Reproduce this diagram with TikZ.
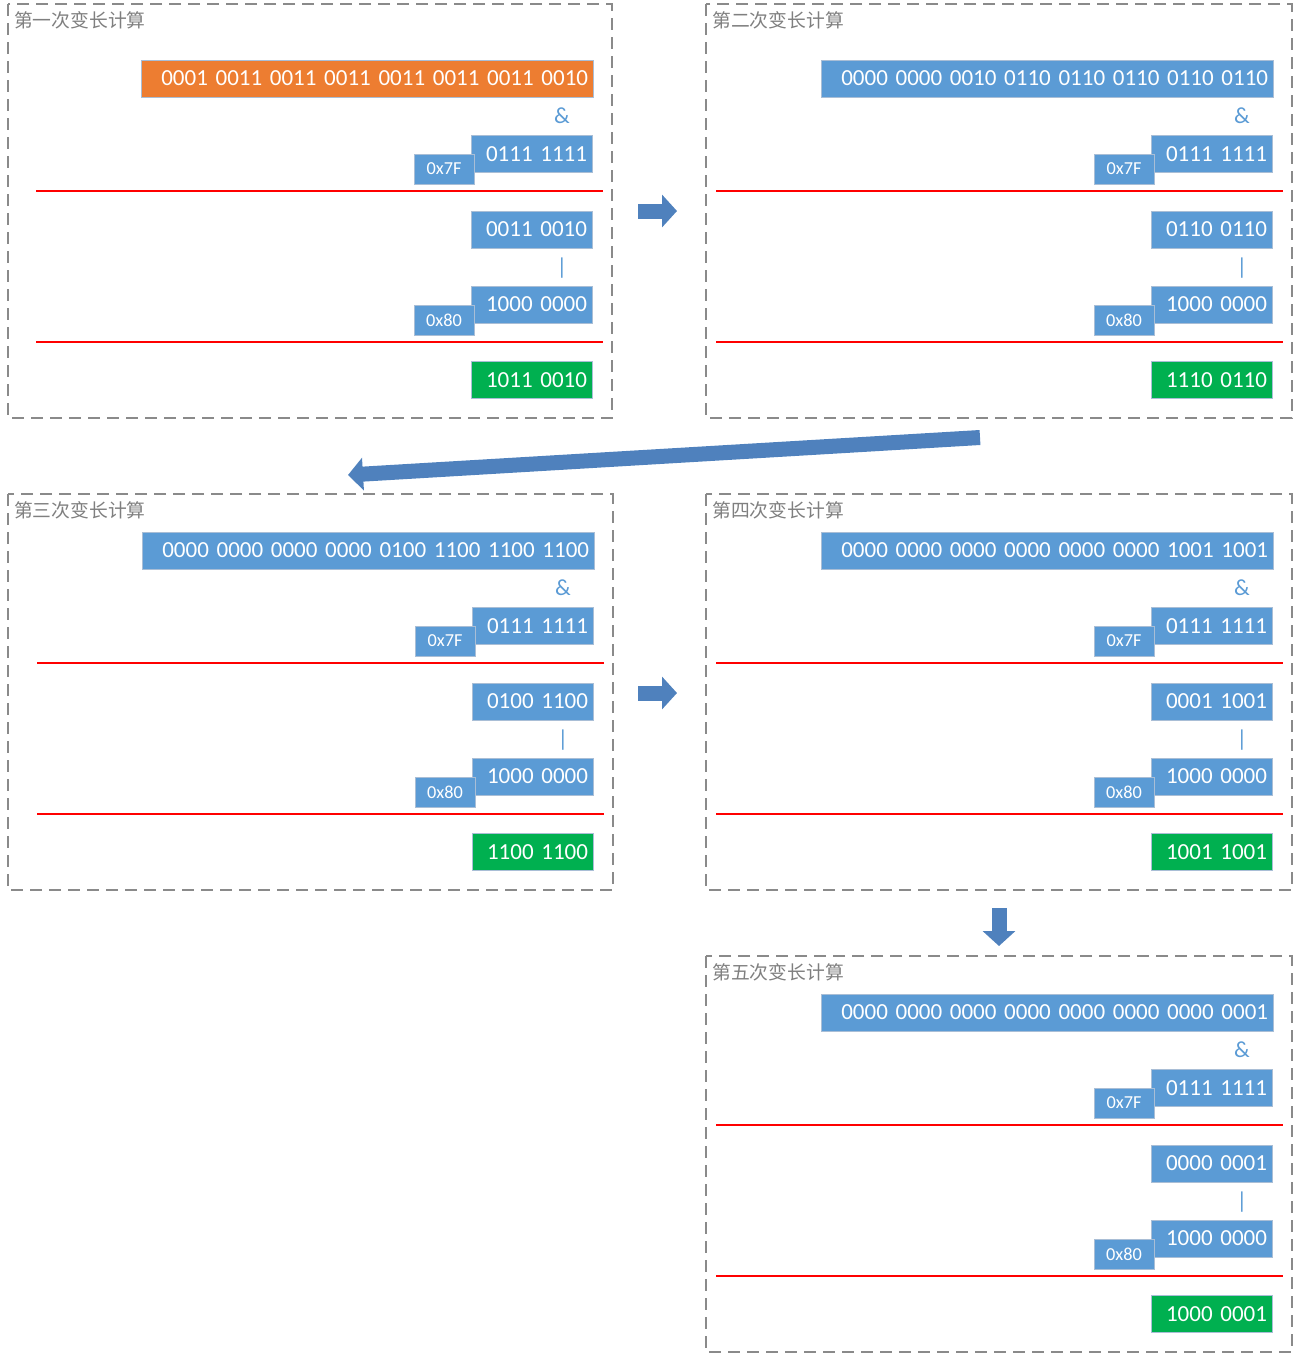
\documentclass[tikz,border=0pt]{standalone}
\usepackage{fontspec}
\newfontfamily\numfont{Carlito}
\newfontfamily\cjkfont{Noto Sans CJK SC}
\usetikzlibrary{arrows.meta}
\definecolor{nodeblue}{HTML}{5B9BD5}
\definecolor{nodeorange}{HTML}{ED7D31}
\definecolor{nodegreen}{HTML}{00B050}
\definecolor{boxline}{HTML}{A9BED6}
\definecolor{framegray}{HTML}{8A8A8A}
\definecolor{titlegray}{HTML}{7F7F7F}
\definecolor{arrowblue}{HTML}{4F81BD}
\tikzstyle{numbox} = [rectangle, draw=boxline, line width=1pt,
                      text=white, font=\numfont\fontsize{23}{28}\selectfont,
                      inner xsep=5pt, inner ysep=0pt,
                      minimum height=37pt, align=right]
\tikzstyle{hexbox} = [rectangle, draw=boxline, line width=1pt,
                      fill=nodeblue, text=white,
                      font=\numfont\fontsize{18.3}{22}\selectfont,
                      inner sep=0pt, minimum width=60pt, minimum height=30pt]
\tikzstyle{opsign} = [text=nodeblue, font=\numfont\fontsize{23}{28}\selectfont, inner sep=0pt]
\tikzstyle{paneltitle} = [text=titlegray, font=\cjkfont\fontsize{18.8}{22}\selectfont,
                          inner sep=0pt, anchor=west]
\tikzstyle{panelframe} = [draw=framegray, line width=2pt, dash pattern=on 12pt off 7pt]
\tikzstyle{sumline} = [red, line width=1.6pt]
\tikzstyle{blockarrow} = [arrowblue, line width=15pt, -{Triangle[width=32pt,length=15pt]}]

\begin{document}
\begin{tikzpicture}[x=1pt, y=-1pt]
    \useasboundingbox (0,0) rectangle (1298,1361);

    % One panel per round of the varint computation
    \foreach \n/\xo/\yo/\lx/\ty/\ptitle/\bigfill/\bigval/\midval/\res in {
        1/0/60/8/-56/第一次变长计算/nodeorange/{0001 0011 0011 0011 0011 0011 0011 0010}/{0011 0010}/{1011 0010},
        2/680/60/706/-56/第二次变长计算/nodeblue/{0000 0000 0010 0110 0110 0110 0110 0110}/{0110 0110}/{1110 0110},
        3/1/532/8/-38/第三次变长计算/nodeblue/{0000 0000 0000 0000 0100 1100 1100 1100}/{0100 1100}/{1100 1100},
        4/680/532/706/-38/第四次变长计算/nodeblue/{0000 0000 0000 0000 0000 0000 1001 1001}/{0001 1001}/{1001 1001},
        5/680/994/706/-38/第五次变长计算/nodeblue/{0000 0000 0000 0000 0000 0000 0000 0001}/{0000 0001}/{1000 0001}} {
        \draw[panelframe] (\lx,{\yo+\ty}) rectangle ({\xo+611.5},{\yo+358});
        \node[paneltitle] (title\n) at ({\lx+6},{\yo+\ty+16.5}) {\ptitle};

        \node[numbox, fill=\bigfill, text width=442pt] (big\n) at ({\xo+367},{\yo+18.5}) {\bigval};
        \node[opsign] (and\n) at ({\xo+562},{\yo+56}) {\&};
        \node[numbox, fill=nodeblue, text width=111pt] (mask\n) at ({\xo+531.5},{\yo+94}) {0111 1111};
        \node[hexbox] (hexa\n) at ({\xo+444},{\yo+109}) {0x7F};
        \draw[sumline] ({\xo+36},{\yo+131}) -- ({\xo+603},{\yo+131});

        \node[numbox, fill=nodeblue, text width=111pt] (mid\n) at ({\xo+531.5},{\yo+169.5}) {\midval};
        \node[opsign] (or\n) at ({\xo+562},{\yo+208}) {|};
        \node[numbox, fill=nodeblue, text width=111pt] (high\n) at ({\xo+531.5},{\yo+244.5}) {1000 0000};
        \node[hexbox] (hexb\n) at ({\xo+444},{\yo+260}) {0x80};
        \draw[sumline] ({\xo+36},{\yo+282}) -- ({\xo+603},{\yo+282});

        \node[numbox, fill=nodegreen, text width=111pt] (res\n) at ({\xo+531.5},{\yo+320}) {\res};
    }

    % Arrows between the panels
    \coordinate (a1s) at (638,211);
    \coordinate (a1e) at (677,211);
    \coordinate (a2s) at (980,437.5);
    \coordinate (a2e) at (348,475);
    \coordinate (a3s) at (638,693);
    \coordinate (a3e) at (677,693);
    \coordinate (a4s) at (999,908);
    \coordinate (a4e) at (999,946);
    \draw[blockarrow] (a1s) -- (a1e);
    \draw[blockarrow] (a2s) -- (a2e);
    \draw[blockarrow] (a3s) -- (a3e);
    \draw[blockarrow] (a4s) -- (a4e);
\end{tikzpicture}
\end{document}
